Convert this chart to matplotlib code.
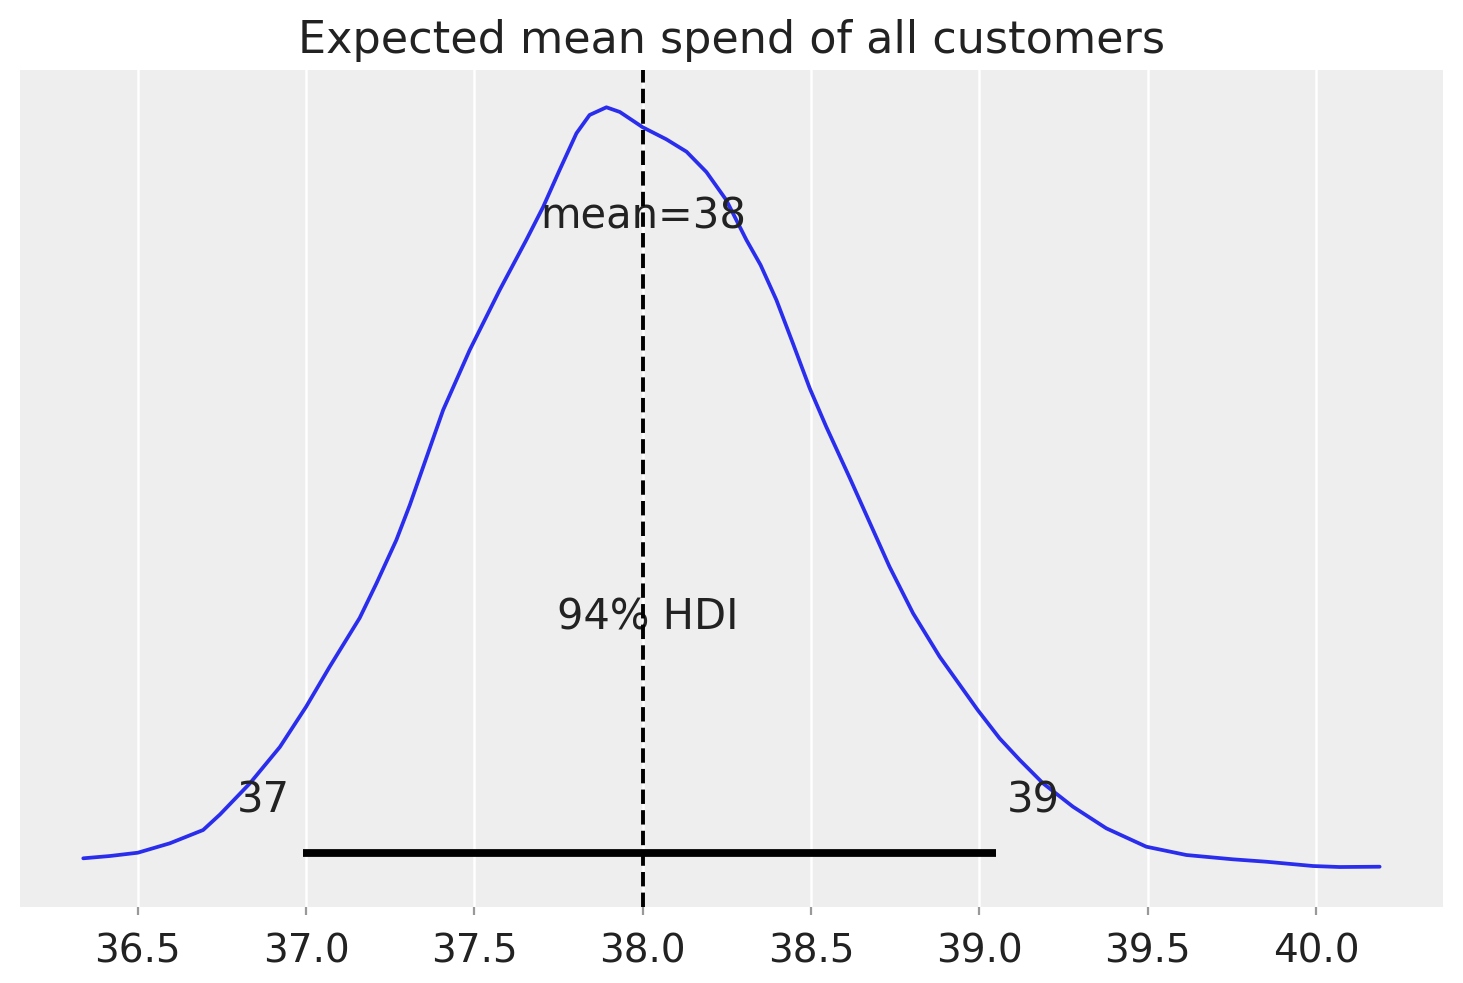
import numpy as np
import matplotlib
matplotlib.use("Agg")
import matplotlib.pyplot as plt

# posterior density of the mean spend
spend = [36.338, 36.417, 36.5, 36.595, 36.694, 36.744, 36.833, 36.922, 37.0,
         37.07, 37.159, 37.209, 37.268, 37.308, 37.407, 37.486, 37.575, 37.654,
         37.704, 37.753, 37.803, 37.842, 37.892, 37.932, 38.0, 38.07, 38.13,
         38.189, 38.248, 38.308, 38.35, 38.397, 38.446, 38.496, 38.545, 38.615,
         38.733, 38.803, 38.882, 38.995, 39.06, 39.12, 39.189, 39.278,
         39.377, 39.496, 39.615, 39.753, 39.852, 39.991, 40.07, 40.189]
density = [0.0117, 0.014, 0.0173, 0.0267, 0.040, 0.0555, 0.0867, 0.123, 0.1633,
           0.2033, 0.252, 0.2867, 0.330, 0.365, 0.460, 0.520, 0.580, 0.630,
           0.663, 0.700, 0.7367, 0.755, 0.7627, 0.758, 0.7427, 0.7307, 0.7183,
           0.698, 0.670, 0.630, 0.605, 0.570, 0.5267, 0.4817, 0.4433, 0.392,
           0.3033, 0.2567, 0.2133, 0.160, 0.1317, 0.110, 0.0867, 0.0633,
           0.0417, 0.0233, 0.015, 0.0107, 0.0083, 0.004, 0.003, 0.0033]
hdi = [36.99, 39.05]
mean_val = 38.0
hdi_labels = ["37", "39"]
xticks = [36.5, 37.0, 37.5, 38.0, 38.5, 39.0, 39.5, 40.0]

plt.rcParams['font.family'] = ['DejaVu Sans']
fig = plt.figure(figsize=(7.315, 4.915), dpi=200)
ax = fig.add_axes([0.01367, 0.0773, 0.9726, 0.8515])
ax.set_facecolor('#eeeeee')
for s in ax.spines.values():
    s.set_visible(False)

ax.plot(spend, density, color='#2a2eec', lw=1.35, zorder=3,
        solid_joinstyle='round', solid_capstyle='round')
ax.plot(hdi, [0.0174, 0.0174], color='k', lw=2.8, solid_capstyle='butt', zorder=4)
ax.axvline(mean_val, color='k', ls='--', lw=1.4, zorder=5)

txt = dict(color='#222222', fontsize=15, ha='center', va='center')
ax.text(36.874, 0.07, hdi_labels[0], **txt)
ax.text(39.16, 0.07, hdi_labels[1], **txt)
ax.text(38.015, 0.253, "94% HDI", **txt)
ax.text(38.0, 0.653, "mean=38", **txt)

ax.set_xlim(36.15, 40.377)
ax.set_ylim(-0.037, 0.80)
ax.set_yticks([])
ax.set_xticks(xticks)
ax.set_xticklabels([f"{t:.1f}" for t in xticks])
ax.tick_params(axis='x', labelsize=14, labelcolor='#222222', color='#999999',
               length=3, width=0.8, pad=6)
ax.grid(axis='x', color='white', lw=0.9)
ax.set_axisbelow(True)
ax.set_title("Expected mean spend of all customers", fontsize=16, color='#222222', pad=6)

fig.savefig("out.png", dpi=200)
